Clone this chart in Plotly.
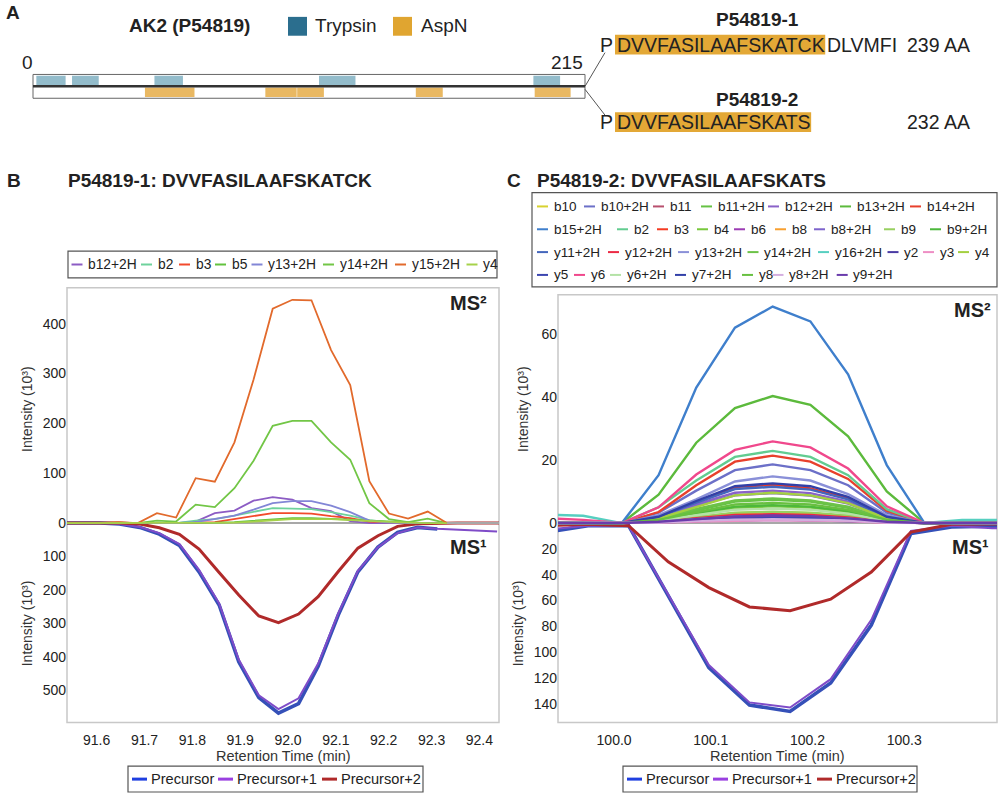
import plotly.graph_objects as go

FONT = "Liberation Sans, Arial, Helvetica, sans-serif"
W, H = 1000, 801


def X(px):
    return px / W


def Y(py):
    return 1 - py / H


# ---------------- Panel A data (residue positions) ----------------
protein_length = 215
trypsin_start = [1.3, 15.2, 47.3, 111.4, 194.9]
trypsin_end = [12.7, 25.6, 58.4, 125.6, 205.3]
aspn_start = [43.6, 90.5, 102.9, 149.1, 195.4]
aspn_end = [62.9, 102.7, 113.3, 159.6, 209.4]

# ---------------- Panel B data ----------------
b_ms2_time = [91.524, 91.564, 91.605, 91.645, 91.686, 91.726, 91.766, 91.807, 91.847, 91.888,
              91.928, 91.968, 92.009, 92.049, 92.090, 92.130, 92.170, 92.211, 92.251, 92.292,
              92.332, 92.372, 92.413]
b_ms2_names = ["b12+2H", "b2", "b3", "b5", "y13+2H", "y14+2H", "y15+2H", "y4"]
b_b12_2H = [0, 0, 0, 0, 0, 0, 0, 3, 20, 25, 45, 52, 47, 30, 24, 4, 0, 0, 0, 0, 0, None, None]
b_b2 = [0, 0, 0, 0, 0, 0, 0, 5, 8, 15, 22, 30, 29, 28, 22, 15, 6, 2, 0, 0, 0, None, None]
b_b3 = [0, 0, 0, 0, 0, 0, 0, 1, 2, 8, 14, 20, 20, 19, 14, 10, 3, 1, 0, 0, 0, None, None]
b_b5 = [0, 0, 0, 0, 0, 0, 0, 0, 1, 2, 5, 8, 10, 10, 9, 7, 5, 3, 1, 0, 0, None, None]
b_y13_2H = [0, 0, 0, 0, 0, 0, 0, 2, 8, 15, 27, 40, 44, 44, 35, 22, 5, 1, 0, 0, 0, None, None]
b_y14_2H = [0, 0, 0, 0, 0, 5, 3, 37, 32, 70, 125, 195, 205, 205, 162, 127, 40, 8, 2, 9, 0, None, None]
b_y15_2H = [0, 0, 0, 2, 0, 20, 11, 90, 83, 162, 288, 430, 448, 447, 347, 277, 84, 19, 9, 23, 0, None, None]
b_y4 = [0, 0, 0, 0, 0, 0, 0, 0, 0, 1, 3, 6, 8, 8, 8, 6, 4, 2, 1, 0, 0, None, None]
b_ms2_values = [b_b12_2H, b_b2, b_b3, b_b5, b_y13_2H, b_y14_2H, b_y15_2H, b_y4]

b_ms1_time = [91.524, 91.565, 91.607, 91.648, 91.690, 91.731, 91.773, 91.814, 91.856, 91.897,
              91.939, 91.980, 92.022, 92.063, 92.105, 92.146, 92.188, 92.229, 92.271, 92.312,
              92.354, 92.395, 92.437, 92.478]
b_precursor = [0, 0, 0, 3, 13, 33, 67, 146, 245, 415, 522, 568, 540, 428, 275, 146, 72, 28, 13, 18,
               None, None, None, None]
b_precursor1 = [0, 0, 0, 3, 12, 30, 63, 140, 240, 408, 515, 556, 524, 420, 270, 143, 72, 30, 13, 17,
                20, 23, 25, None]
b_precursor2 = [0, 0, 0, 0, 3, 14, 34, 78, 148, 215, 278, 298, 272, 220, 145, 75, 38, 10, 2, 0,
                0, 0, 0, 0]

# ---------------- Panel C data ----------------
c_ms2_time = [99.930, 99.968, 100.008, 100.046, 100.085, 100.125, 100.164, 100.203, 100.242,
              100.282, 100.321, 100.360, 100.399]
c_ms2_names = ["b10", "b10+2H", "b11", "b11+2H", "b12+2H", "b13+2H", "b14+2H", "b15+2H", "b2", "b3",
               "b4", "b6", "b8", "b8+2H", "b9", "b9+2H", "y11+2H", "y12+2H", "y13+2H", "y14+2H",
               "y16+2H", "y2", "y3", "y4", "y5", "y6", "y6+2H", "y7+2H", "y8", "y8+2H", "y9+2H"]
c_b10 = [0, 0, 0, 0.6, 1.9, 3.1, 3.4, 3.1, 2.2, 0.5, 0, 0, 0]
c_b10_2H = [0, 0, 0, 3.3, 10.3, 16.8, 18.6, 16.8, 12.0, 3.3, 0, 0, 0]
c_b11 = [0, 0, 0, 0.2, 0.6, 1.0, 1.1, 1.0, 0.7, 0.2, 0, 0, 0]
c_b11_2H = [0, 0, 0, 1.2, 4.0, 6.8, 7.4, 6.8, 4.8, 1.1, 0, 0, 0]
c_b12_2H = [0, 0, 0, 1.8, 6.0, 9.6, 10.3, 9.5, 6.8, 1.6, 0, 0, 0]
c_b13_2H = [0, 0, 0, 9.0, 25.5, 36.5, 40.3, 37.5, 27.5, 10.0, 0, 0, 0]
c_b14_2H = [0, 0, 0, 3.5, 12.0, 19.5, 21.4, 19.5, 14.0, 3.9, 0, 0, 0]
c_b15_2H = [0, 0, 0, 15.2, 43.0, 62.0, 68.7, 64.0, 47.2, 18.4, 0, 0, 0]
c_b2 = [0, 0, 0, 5.0, 13.5, 21.0, 22.9, 21.0, 15.2, 4.4, 0, 0, 0]
c_b3 = [0, 0, 0, 2.0, 6.8, 11.4, 12.2, 11.0, 7.8, 2.0, 0, 0, 0]
c_b4 = [0, 0, 0, 0.9, 2.9, 4.8, 5.3, 4.9, 3.5, 0.8, 0, 0, 0]
c_b6 = [0, 0, 0, 0.3, 0.9, 1.5, 1.6, 1.5, 1.0, 0.3, 0, 0, 0]
c_b8 = [0, 0, 0, 0.4, 1.1, 1.8, 2.0, 1.8, 1.3, 0.3, 0, 0, 0]
c_b8_2H = [0, 0, 0, 1.6, 5.5, 8.8, 9.5, 8.7, 6.2, 1.5, 0, 0, 0]
c_b9 = [0, 0, 0, 0.6, 2.0, 3.3, 3.6, 3.3, 2.4, 0.6, 0, 0, 0]
c_b9_2H = [0, 0, 0, 1.0, 3.2, 5.2, 5.7, 5.2, 3.8, 0.9, 0, 0, 0]
c_y11_2H = [0, 0, 0, 2.0, 6.5, 10.8, 11.5, 10.6, 7.5, 1.8, 0, 0, 0]
c_y12_2H = [0, 0, 0, 0.5, 1.6, 2.6, 2.8, 2.6, 1.8, 0.4, 0, 0.5, 0.5]
c_y13_2H = [0, 0, 0, 2.5, 7.5, 13.2, 14.8, 13.5, 9.2, 2.5, 0, 0, 0]
c_y14_2H = [0, 0, 0, 1.3, 4.5, 7.2, 7.8, 7.2, 5.2, 1.2, 0, 0, 0]
c_y16_2H = [2.7, 2.3, 0, 0.4, 1.2, 2.0, 2.2, 2.0, 1.4, 0.4, 0, 1.0, 1.0]
c_y2 = [0, 0, 0, 0.2, 0.6, 0.9, 1.0, 0.9, 0.6, 0.2, 0, 0, 0]
c_y3 = [0, 0, 0, 0.2, 0.5, 0.8, 0.9, 0.8, 0.6, 0.1, 0, 0, 0]
c_y4 = [0, 0, 0, 1.5, 5.2, 8.8, 9.6, 8.8, 6.3, 1.4, 0, 0, 0]
c_y5 = [0, 0, 0, 0.3, 1.0, 1.7, 1.9, 1.7, 1.2, 0.3, 0, 0, 0]
c_y6 = [1.5, 1.0, 0, 5.0, 15.4, 23.2, 25.9, 24.0, 17.3, 5.3, 0, 0, 0]
c_y6_2H = [0, 0, 0, 0.8, 2.5, 4.2, 4.6, 4.2, 3.0, 0.7, 0, 0, 0]
c_y7_2H = [0, 0, 0, 2.0, 7.0, 11.7, 12.6, 11.7, 8.3, 2.0, 0, 0, 0]
c_y8 = [0, 0, 0, 1.0, 3.5, 5.9, 6.4, 5.9, 4.2, 1.0, 0, 0, 0]
c_y8_2H = [0, 0, 0, 0.2, 0.7, 1.1, 1.2, 1.1, 0.8, 0.2, 0, 0, 0]
c_y9_2H = [0, 0, 0, 0.4, 1.3, 2.1, 2.4, 2.2, 1.5, 0.4, 0, 0, 0]
c_ms2_values = [c_b10, c_b10_2H, c_b11, c_b11_2H, c_b12_2H, c_b13_2H, c_b14_2H, c_b15_2H, c_b2, c_b3,
                c_b4, c_b6, c_b8, c_b8_2H, c_b9, c_b9_2H, c_y11_2H, c_y12_2H, c_y13_2H, c_y14_2H,
                c_y16_2H, c_y2, c_y3, c_y4, c_y5, c_y6, c_y6_2H, c_y7_2H, c_y8, c_y8_2H, c_y9_2H]

c_ms1_time = [99.931, 99.973, 100.015, 100.056, 100.098, 100.140, 100.182, 100.224, 100.266,
              100.307, 100.349, 100.391, 100.432]
c_precursor = [7, 2, 2, 57, 112, 141, 146, 124, 79, 8, 3, 2.5, 2.5]
c_precursor1 = [5, 2, 2, 55, 110, 139, 143, 121, 75, 6, 2, 4, 4]
c_precursor2 = [2, 1, 2, 30, 50, 65, 68, 59, 38, 7, 1, 0.5, 0.5]

ms1_names = ["Precursor", "Precursor+1", "Precursor+2"]

# ---------------- styles ----------------
b_colors = {"b12+2H": "#8c5cc4", "b2": "#6ed29c", "b3": "#f24a2c", "b5": "#62c23e",
            "y13+2H": "#8286d6", "y14+2H": "#72c646", "y15+2H": "#e26a2c", "y4": "#a6d24a"}
c_colors = {"b10": "#d8d230", "b10+2H": "#6c70c8", "b11": "#b8506e", "b11+2H": "#66c244",
            "b12+2H": "#8a62c8", "b13+2H": "#5cba3c", "b14+2H": "#e8402c", "b15+2H": "#3f7fcc",
            "b2": "#62cc90", "b3": "#f43a22", "b4": "#78c83c", "b6": "#9c3cb4", "b8": "#f8a030",
            "b8+2H": "#7e64cc", "b9": "#98d060", "b9+2H": "#4cb83c", "y11+2H": "#4466bc",
            "y12+2H": "#ec2a44", "y13+2H": "#8a90d8", "y14+2H": "#6cc248", "y16+2H": "#56cfc0",
            "y2": "#4a3aa4", "y3": "#ee8ec4", "y4": "#a4d040", "y5": "#3c46b0", "y6": "#f0488c",
            "y6+2H": "#b4e2a6", "y7+2H": "#3240a8", "y8": "#68c040", "y8+2H": "#d4aee0",
            "y9+2H": "#6a3cac"}
ms1_colors = {"Precursor": "#3550b8", "Precursor+1": "#7f4cc8", "Precursor+2": "#b02a2a"}
ms1_widths = {"Precursor": 3.6, "Precursor+1": 2.0, "Precursor+2": 3.0}
ms1_legend_colors = {"Precursor": "#1f3fe0", "Precursor+1": "#9a40e0", "Precursor+2": "#b02a2a"}
trypsin_block = "#93bccb"
aspn_block = "#e9b862"
trypsin_key = "#2b6e8e"
aspn_key = "#e0a530"
highlight = "#e3a836"

fig = go.Figure()

# ---------------- Panel A traces ----------------
fig.add_trace(go.Bar(y=[1.5] * len(trypsin_start), x=[e - s for s, e in zip(trypsin_start, trypsin_end)],
                     base=trypsin_start, orientation="h", width=0.8,
                     marker=dict(color=trypsin_block, line=dict(width=0)),
                     xaxis="x5", yaxis="y5", hoverinfo="skip"))
fig.add_trace(go.Bar(y=[0.5] * len(aspn_start), x=[e - s for s, e in zip(aspn_start, aspn_end)],
                     base=aspn_start, orientation="h", width=0.8,
                     marker=dict(color=aspn_block, line=dict(width=0)),
                     xaxis="x5", yaxis="y5", hoverinfo="skip"))

# ---------------- Panel B traces ----------------
for name, vals in zip(b_ms2_names, b_ms2_values):
    fig.add_trace(go.Scatter(x=b_ms2_time, y=vals, mode="lines", name=name,
                             line=dict(color=b_colors[name], width=1.8),
                             xaxis="x2", yaxis="y"))
for name, vals in zip(ms1_names, [b_precursor, b_precursor1, b_precursor2]):
    fig.add_trace(go.Scatter(x=b_ms1_time, y=vals, mode="lines", name=name,
                             line=dict(color=ms1_colors[name], width=ms1_widths[name]),
                             xaxis="x", yaxis="y2"))

# ---------------- Panel C traces ----------------
for name, vals in zip(c_ms2_names, c_ms2_values):
    fig.add_trace(go.Scatter(x=c_ms2_time, y=vals, mode="lines", name=name,
                             line=dict(color=c_colors[name], width=2.4),
                             xaxis="x4", yaxis="y3"))
for name, vals in zip(ms1_names, [c_precursor, c_precursor1, c_precursor2]):
    fig.add_trace(go.Scatter(x=c_ms1_time, y=vals, mode="lines", name=name,
                             line=dict(color=ms1_colors[name], width=ms1_widths[name]),
                             xaxis="x3", yaxis="y4"))

tickfont = dict(family=FONT, size=14, color="#222")
common_y = dict(showgrid=False, ticks="", showline=False, tickfont=tickfont, fixedrange=True)
common_x = dict(showgrid=False, ticks="", showline=False, zeroline=False, tickfont=tickfont)

b_x_ticks = [91.6, 91.7, 91.8, 91.9, 92.0, 92.1, 92.2, 92.3, 92.4]
c_x_ticks = [100.0, 100.1, 100.2, 100.3]

fig.update_layout(
    width=W, height=H, margin=dict(l=0, r=0, t=0, b=0),
    paper_bgcolor="white", plot_bgcolor="rgba(0,0,0,0)",
    showlegend=False, barmode="overlay",
    font=dict(family=FONT, color="#222"),
    # Panel B
    xaxis=dict(domain=[X(67), X(499)], range=[91.538, 92.441], anchor="y2",
               tickvals=b_x_ticks, ticktext=[f"{v:.1f}" for v in b_x_ticks],
               ticklabelstandoff=7, **common_x),
    xaxis2=dict(domain=[X(67), X(499)], matches="x", anchor="y", visible=False),
    yaxis=dict(domain=[Y(529), Y(290)], range=[-4, 472], anchor="x2",
               tickvals=[0, 100, 200, 300, 400], zeroline=True, zerolinecolor="#a8a8a8",
               zerolinewidth=2.5, **common_y),
    yaxis2=dict(domain=[Y(728), Y(525)], range=[596.4, -5.9], anchor="x",
                tickvals=[100, 200, 300, 400, 500], zeroline=False, **common_y),
    # Panel C
    xaxis3=dict(domain=[X(558), X(997)], range=[99.942, 100.396], anchor="y4",
                tickvals=c_x_ticks, ticktext=[f"{v:.1f}" for v in c_x_ticks],
                ticklabelstandoff=7, **common_x),
    xaxis4=dict(domain=[X(558), X(997)], matches="x3", anchor="y3", visible=False),
    yaxis3=dict(domain=[Y(529), Y(297)], range=[-0.63, 72.44], anchor="x4",
                tickvals=[0, 20, 40, 60], zeroline=True, zerolinecolor="#a8a8a8",
                zerolinewidth=2.5, **common_y),
    yaxis4=dict(domain=[Y(728), Y(525)], range=[154.6, -1.54], anchor="x3",
                tickvals=[20, 40, 60, 80, 100, 120, 140], zeroline=False, **common_y),
    # Panel A protein map axis
    xaxis5=dict(domain=[X(33), X(585)], range=[0, protein_length], anchor="y5", visible=False,
                fixedrange=True),
    yaxis5=dict(domain=[Y(99), Y(75)], range=[0, 2], anchor="x5", visible=False, fixedrange=True),
)

shapes = []
annotations = []


def ann(text, px, py, size, xanchor="left", yanchor="middle", color="#222", bold=False, **kw):
    if bold:
        text = "<b>" + text + "</b>"
    d = dict(text=text, x=X(px), y=Y(py), xref="paper", yref="paper", xanchor=xanchor,
             yanchor=yanchor, showarrow=False, font=dict(family=FONT, size=size, color=color))
    d.update(kw)
    annotations.append(d)


def rect(x0, y0, x1, y1, line="#555", width=1.0, fill=None, layer="above"):
    shapes.append(dict(type="rect", xref="paper", yref="paper", x0=X(x0), x1=X(x1), y0=Y(y1), y1=Y(y0),
                       line=dict(color=line, width=width), fillcolor=fill, layer=layer))


def hline(x0, x1, y, color, width):
    shapes.append(dict(type="line", xref="paper", yref="paper", x0=X(x0), x1=X(x1), y0=Y(y), y1=Y(y),
                       line=dict(color=color, width=width)))


def seg(x0, y0, x1, y1, color, width):
    shapes.append(dict(type="line", xref="paper", yref="paper", x0=X(x0), x1=X(x1), y0=Y(y0), y1=Y(y1),
                       line=dict(color=color, width=width)))


# ---------------- Panel A decorations ----------------
ann("A", 4, 13, 19, bold=True)
ann("AK2 (P54819)", 127, 26, 19, bold=True)
rect(288, 17, 307, 36, line=trypsin_key, width=0, fill=trypsin_key)
ann("Trypsin", 313, 26, 19)
rect(393, 17, 412, 36, line=aspn_key, width=0, fill=aspn_key)
ann("AspN", 419, 26, 19)
ann("0", 27, 63, 19, xanchor="center")
ann(str(protein_length), 585, 63, 19, xanchor="right")
rect(33, 75, 585, 99, line="#666", width=1)
hline(33, 585, 87, "#333", 2.5)
seg(585, 87, 605, 53, "#555", 1)
seg(585, 90, 605, 116, "#555", 1)

ann("P54819-1", 757, 20, 19, xanchor="center", bold=True)
ann("P54819-2", 757, 100, 19, xanchor="center", bold=True)
seq_size = 19.5
rect(615, 35, 615 + 10.781 * seq_size, 55, line=highlight, width=0, fill=highlight, layer="below")
rect(615, 113, 615 + 10.059 * seq_size, 133, line=highlight, width=0, fill=highlight, layer="below")
ann("P", 615, 45, seq_size, xanchor="right")
ann("DVVFASILAAFSKATCK", 615, 45, seq_size)
ann("DLVMFI", 615 + 10.781 * seq_size, 45, seq_size)
ann("239 AA", 905, 45, seq_size)
ann("P", 615, 123, seq_size, xanchor="right")
ann("DVVFASILAAFSKATS", 615, 123, seq_size)
ann("232 AA", 905, 123, seq_size)

# ---------------- Panel titles ----------------
ann("B", 5, 182, 19, bold=True)
ann("P54819-1: DVVFASILAAFSKATCK", 66, 182, 19, bold=True)
ann("C", 505, 182, 19, bold=True)
ann("P54819-2: DVVFASILAAFSKATS", 535, 182, 19, bold=True)

# plot frames
rect(67, 290, 499, 728, line="#c8c8c8", width=1.5, layer="below")
rect(558, 297, 997, 728, line="#c8c8c8", width=1.5, layer="below")

# axis titles and MS labels
ytitle = "Intensity (10³)"
ann(ytitle, 27, 412, 14, xanchor="center", textangle=-90, color="#333")
ann(ytitle, 27, 628, 14, xanchor="center", textangle=-90, color="#333")
ann(ytitle, 523, 412, 14, xanchor="center", textangle=-90, color="#333")
ann(ytitle, 518, 628, 14, xanchor="center", textangle=-90, color="#333")
ann("Retention Time (min)", 283, 762, 14.5, xanchor="center", color="#333")
ann("Retention Time (min)", 777, 762, 14.5, xanchor="center", color="#333")
ann("MS²", 489, 305, 20, xanchor="right", bold=True)
ann("MS¹", 489, 551, 20, xanchor="right", bold=True)
ann("MS²", 993, 312, 20, xanchor="right", bold=True)
ann("MS¹", 991, 551, 20, xanchor="right", bold=True)

# ---------------- manual legends ----------------
def legend_item(name, color, xline, y, size, length=11, width=2, offset=14.5):
    hline(xline, xline + length, y, color, width)
    ann(name, xline + offset, y, size)


# Panel B fragment legend
rect(68, 253, 497, 280, line="#555", width=1.2)
b_leg_x = [71.5, 141, 179, 215, 251.5, 323, 395, 466.5]
for name, xl in zip(b_ms2_names, b_leg_x):
    legend_item(name, b_colors[name], xl, 266.5, 13.8)

# Panel C fragment legend (4 rows)
rect(532, 194, 997, 289, line="#555", width=1.2)
c_leg_rows = [
    (208, ["b10", "b10+2H", "b11", "b11+2H", "b12+2H", "b13+2H", "b14+2H"],
     [537, 584, 653, 701, 768, 840, 910]),
    (231, ["b15+2H", "b2", "b3", "b4", "b6", "b8", "b8+2H", "b9", "b9+2H"],
     [537, 617, 657, 697, 734, 775, 814, 884, 930]),
    (254, ["y11+2H", "y12+2H", "y13+2H", "y14+2H", "y16+2H", "y2", "y3", "y4"],
     [537, 608, 678, 747.5, 818, 887.5, 923, 958]),
    (277, ["y5", "y6", "y6+2H", "y7+2H", "y8", "y8+2H", "y9+2H"],
     [537, 574, 610, 675, 742, 772.5, 836.7]),
]
for y, names, xs in c_leg_rows:
    for name, xl in zip(names, xs):
        legend_item(name, c_colors[name], xl, y, 13.5)

# MS1 legends
rect(128, 772, 423, 798, line="#555", width=1.2)
for name, xl in zip(ms1_names, [132, 218, 322]):
    legend_item(name, ms1_legend_colors[name], xl, 785, 14.6, length=15, width=3, offset=17)
rect(623, 772, 917, 798, line="#555", width=1.2)
for name, xl in zip(ms1_names, [627, 713, 817]):
    legend_item(name, ms1_legend_colors[name], xl, 785, 14.6, length=15, width=3, offset=17)

fig.update_layout(shapes=shapes, annotations=annotations)
fig.write_html("out.html", config={"displayModeBar": False, "staticPlot": True},
               post_script="document.body.style.margin='0';document.body.style.overflow='hidden';")
